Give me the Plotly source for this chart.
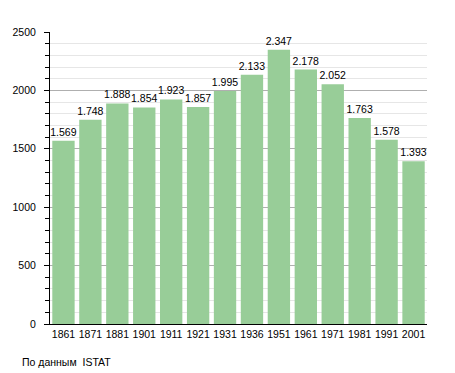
import plotly.graph_objects as go

years = ["1861", "1871", "1881", "1901", "1911", "1921", "1931", "1936",
         "1951", "1961", "1971", "1981", "1991", "2001"]
population = [1569, 1748, 1888, 1854, 1923, 1857, 1995, 2133,
              2347, 2178, 2052, 1763, 1578, 1393]
labels = [f"{v:,}".replace(",", ".") for v in population]

# page body has an 8px default margin, so the figure is sized/offset for it
W, H = 447, 365
L, R, T, B = 42, 28, 24, 49

fig = go.Figure(go.Bar(
    x=years, y=population, text=labels, textposition="outside",
    cliponaxis=False, constraintext="none",
    marker=dict(color="rgb(152,205,152)", line=dict(width=0)),
    textfont=dict(family="Liberation Sans, Arial", size=10.5, color="black"),
))

pw = W - L - R
ph = H - T - B

fig.update_layout(
    width=W, height=H,
    margin=dict(l=L, r=R, t=T, b=B),
    plot_bgcolor="white", paper_bgcolor="white",
    bargap=0.17, showlegend=False,
    font=dict(family="Liberation Sans, Arial", size=10.5, color="black"),
    xaxis=dict(type="category", showgrid=False, showline=True, linecolor="black",
               linewidth=1, ticks="", automargin=False, tickfont=dict(size=10.5)),
    yaxis=dict(range=[0, 2500], tickvals=[0, 500, 1000, 1500, 2000, 2500],
               showline=True, linecolor="black", linewidth=1, automargin=False,
               ticks="outside", ticklen=5, tickcolor="black",
               ticklabelstandoff=6,
               gridcolor="rgb(175,175,175)", gridwidth=1, zeroline=False,
               minor=dict(dtick=100, showgrid=True, gridcolor="rgb(230,230,230)",
                          ticks="outside", ticklen=4, tickcolor="black"),
               tickfont=dict(size=10.5)),
    annotations=[dict(text="По данным  ISTAT",
                      x=(12 - L) / pw, y=(H - B - 354) / ph,
                      xref="paper", yref="paper",
                      showarrow=False, xanchor="left", yanchor="middle",
                      font=dict(size=10.5))],
)

fig.write_html("out.html")
